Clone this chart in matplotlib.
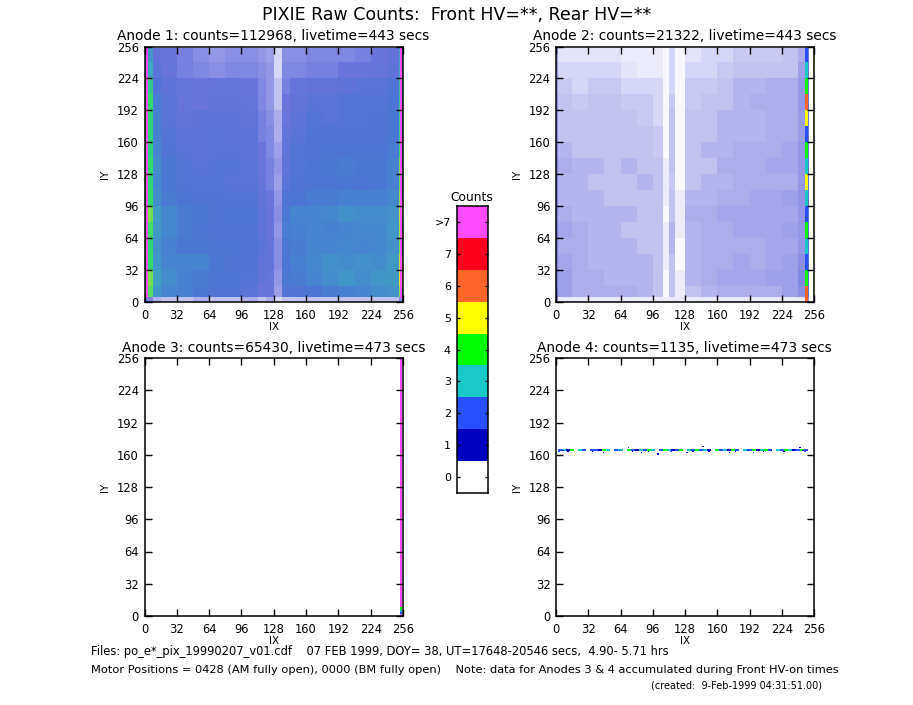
import matplotlib
matplotlib.use('Agg')
import matplotlib.pyplot as plt
from matplotlib.colors import ListedColormap, BoundaryNorm, LinearSegmentedColormap, Normalize

W, H = 913, 705
plt.rcParams['font.family'] = ['DejaVu Sans']

# colour bar levels, bottom to top
level_labels = ['0', '1', '2', '3', '4', '5', '6', '7', '>7']
level_colors = ['#ffffff', '#0000be', '#2850ff', '#19c8c8', '#00ff00',
                '#ffff00', '#ff6428', '#ff001e', '#ff4bff']
ticks = [0, 32, 64, 96, 128, 160, 192, 224, 256]

# mean counts per block, estimated by eye (the single pixels can't be read)
a1_x = [0, 8, 16, 32, 48, 64, 80, 96, 112, 120, 128, 136, 144, 160, 176, 192, 208, 224, 240, 252, 256]
a1_y = [0, 5, 16, 32, 48, 64, 80, 96, 112, 128, 144, 160, 176, 192, 208, 224, 240, 254, 256]
a1_means = [
    [0.8, .4, .3, .3, .4, .3, .3, .4, .3, .4, .2, .3, .3, .3, .3, .3, .3, .3, .3, .8],
    [4.2, 2.5, 2.1, 2.0, 1.8, 1.6, 1.6, 1.4, 1.0, 1.0, .5, 1.5, 1.6, 1.7, 1.9, 2.0, 2.1, 2.3, 2.4, 4.5],
    [4.4, 2.8, 2.3, 2.0, 1.9, 1.7, 1.7, 1.5, 1.2, 1.1, .6, 1.8, 1.9, 2.1, 2.3, 2.5, 2.3, 2.5, 2.6, 5.0],
    [4.0, 2.5, 2.1, 2.1, 2.1, 1.8, 1.6, 1.6, 1.3, 1.2, .7, 1.7, 2.0, 2.2, 2.4, 2.3, 2.4, 2.3, 2.6, 4.8],
    [3.9, 2.4, 2.0, 1.8, 1.8, 1.7, 1.7, 1.6, 1.4, 1.2, .7, 1.8, 1.9, 2.1, 2.1, 2.2, 2.1, 2.2, 2.4, 4.4],
    [4.1, 2.6, 2.2, 1.9, 1.7, 1.6, 1.6, 1.6, 1.3, 1.1, .6, 1.9, 2.0, 2.1, 2.0, 2.1, 2.2, 2.2, 2.5, 4.6],
    [4.4, 2.7, 2.2, 1.9, 1.8, 1.6, 1.7, 1.7, 1.3, 1.1, .7, 1.8, 2.1, 2.1, 2.2, 2.4, 2.3, 2.3, 2.4, 4.8],
    [4.0, 2.3, 1.9, 1.7, 1.6, 1.6, 1.5, 1.5, 1.2, 1.0, .6, 1.6, 1.7, 1.9, 1.9, 2.0, 2.0, 2.0, 2.2, 4.5],
    [3.9, 2.2, 1.8, 1.5, 1.5, 1.5, 1.4, 1.4, 1.1, .9, .5, 1.4, 1.6, 1.7, 1.7, 1.8, 1.7, 1.8, 2.0, 4.3],
    [4.0, 2.3, 1.8, 1.5, 1.4, 1.5, 1.5, 1.4, 1.0, .9, .6, 1.3, 1.5, 1.7, 1.8, 1.9, 1.8, 1.8, 2.0, 4.4],
    [3.8, 2.1, 1.6, 1.4, 1.3, 1.4, 1.4, 1.3, 1.0, .8, .5, 1.2, 1.5, 1.6, 1.7, 1.7, 1.7, 1.7, 1.9, 4.0],
    [3.9, 2.0, 1.5, 1.3, 1.3, 1.4, 1.3, 1.3, .9, .8, .4, 1.2, 1.4, 1.6, 1.6, 1.6, 1.6, 1.6, 1.8, 3.8],
    [3.9, 2.0, 1.4, 1.2, 1.3, 1.3, 1.3, 1.2, .9, .7, .4, 1.0, 1.3, 1.5, 1.4, 1.5, 1.5, 1.6, 1.8, 3.8],
    [4.0, 1.9, 1.4, 1.1, 1.0, 1.2, 1.2, 1.1, .8, .6, .3, 1.0, 1.2, 1.4, 1.4, 1.5, 1.5, 1.5, 1.7, 3.6],
    [3.6, 1.6, 1.3, 1.1, 1.0, 1.1, 1.1, 1.0, .8, .6, .3, .9, 1.1, 1.2, 1.2, 1.3, 1.4, 1.4, 1.6, 3.4],
    [3.0, 1.4, 1.1, .9, .8, .7, .8, .8, .7, .6, .2, .8, .8, .9, .9, 1.0, 1.0, 1.1, 1.3, 3.0],
    [2.6, 1.2, 1.0, .9, .7, .6, .7, .7, .6, .5, .2, .7, .7, .8, .8, .8, .9, 1.0, 1.2, 2.8],
    [0, 0, 0, 0, 0, 0, 0, 0, 0, 0, 0, 0, 0, 0, 0, 0, 0, 0, 0, 0],
]

a2_x = [0, 2, 16, 32, 48, 64, 80, 96, 106, 112, 118, 128, 144, 160, 176, 192, 208, 224, 240, 247, 251, 256]
a2_y = [0, 5, 16, 32, 48, 64, 80, 96, 112, 128, 144, 160, 176, 192, 208, 224, 240, 254, 256]
a2_means = [
    [.6, .1, .1, .1, .1, .1, .1, .1, .1, .1, .1, .1, .1, .1, .1, .1, .1, .1, .1, .6, 0],
    [1.0, .5, .4, .4, .4, .4, .35, .3, .05, .3, .1, .3, .35, .4, .4, .4, .4, .5, .7, 1.5, 0],
    [.9, .5, .4, .4, .35, .35, .35, .3, .05, .3, .1, .35, .4, .45, .45, .45, .5, .5, .8, 1.5, 0],
    [.8, .45, .4, .35, .35, .35, .35, .3, .1, .3, .05, .35, .4, .4, .45, .4, .45, .5, .7, 1.5, 0],
    [.8, .4, .4, .35, .35, .35, .3, .3, .1, .35, .05, .35, .4, .4, .4, .4, .45, .45, .6, 1.4, 0],
    [.9, .45, .4, .35, .35, .3, .3, .3, .1, .35, .1, .35, .4, .4, .45, .45, .45, .5, .6, 1.4, 0],
    [.8, .4, .35, .35, .35, .35, .3, .3, .05, .3, .1, .4, .4, .45, .45, .45, .45, .45, .6, 1.4, 0],
    [.8, .35, .35, .35, .3, .3, .3, .3, .1, .3, .1, .35, .35, .4, .4, .45, .45, .5, .65, 1.3, 0],
    [.8, .35, .35, .3, .3, .3, .35, .3, .1, .25, .05, .3, .35, .35, .4, .4, .4, .4, .6, 1.3, 0],
    [.8, .4, .35, .35, .3, .35, .3, .3, .1, .3, .05, .3, .3, .4, .4, .4, .45, .45, .6, 1.3, 0],
    [.7, .35, .3, .3, .3, .3, .3, .25, .05, .3, .05, .3, .35, .35, .4, .4, .4, .45, .6, 1.2, 0],
    [.7, .3, .3, .3, .3, .3, .3, .25, .05, .3, .05, .3, .3, .35, .35, .35, .4, .4, .55, 1.2, 0],
    [.7, .3, .3, .3, .3, .3, .25, .2, .05, .3, .05, .3, .3, .35, .35, .35, .4, .4, .55, 1.2, 0],
    [.7, .3, .25, .3, .3, .25, .25, .2, .05, .25, .05, .25, .3, .3, .35, .4, .4, .4, .6, 1.2, 0],
    [.6, .25, .2, .25, .25, .2, .2, .2, .05, .2, .05, .25, .25, .3, .35, .35, .4, .4, .6, 1.2, 0],
    [.6, .2, .2, .2, .2, .15, .1, .1, .05, .2, .05, .2, .2, .25, .3, .3, .3, .3, .5, 1.1, 0],
    [.5, .15, .15, .15, .15, .1, .1, .1, .05, .2, .05, .15, .2, .2, .25, .25, .25, .3, .4, 1.0, 0],
    [0, 0, 0, 0, 0, 0, 0, 0, 0, 0, 0, 0, 0, 0, 0, 0, 0, 0, 0, 0, 0],
]

# Anode 2 hot column, level per 16 rows from the bottom
a2_hot_y = [0, 16, 32, 48, 64, 80, 96, 112, 128, 144, 160, 176, 192, 208, 224, 240, 254]
a2_hot_levels = [6, 4, 2, 3, 4, 2, 3, 5, 3, 4, 2, 5, 6, 4, 3, 2]

# Anode 3 column at the right edge
a3_col_y = [0, 2, 4, 6, 9, 256]
a3_col_levels = [8, 2, 3, 4, 8]

# Anode 4 band, main row in 4 wide steps then the stray pixels around it
a4_x = [2, 6, 10, 14, 18, 22, 26, 30, 34, 38, 42, 46, 50, 54, 58, 62, 66, 70, 74, 78, 82, 86, 90, 94, 98,
        102, 106, 110, 114, 118, 122, 126, 130, 134, 138, 142, 146, 150, 154, 158, 162, 166, 170, 174,
        178, 182, 186, 190, 194, 198, 202, 206, 210, 214, 218, 222, 226, 230, 234, 238, 242, 246, 250]
a4_levels = [2, 3, 1, 4, 0, 3, 2, 0, 2, 2, 1, 4, 3, 0, 2, 3, 0, 4, 2, 1, 3, 2, 4, 3, 0, 2, 4, 3,
             1, 2, 4, 0, 3, 2, 4, 2, 3, 1, 0, 4, 2, 3, 1, 4, 2, 0, 3, 2, 4, 1, 3, 4, 2, 0, 3, 2,
             4, 3, 1, 2, 4, 2]
stray_x = [3, 7, 12, 36, 40, 47, 63, 72, 76, 85, 92, 101, 114, 130, 136, 146, 152, 164, 172, 178,
           190, 196, 206, 214, 226, 238, 242, 245, 247]
stray_y = [163, 164, 163, 163, 164, 162, 164, 167, 163, 162, 163, 161, 163, 162, 163, 168, 163, 164, 162, 163,
           164, 162, 163, 164, 163, 164, 167, 164, 163]
stray_levels = [2, 1, 1, 1, 2, 1, 1, 2, 1, 1, 1, 1, 2, 1, 1, 1, 1, 2, 1, 1, 1, 2, 1, 1, 1, 2, 1, 1, 2]

titles = ['Anode 1: counts=112968, livetime=443 secs', 'Anode 2: counts=21322, livetime=443 secs',
          'Anode 3: counts=65430, livetime=473 secs', 'Anode 4: counts=1135, livetime=473 secs']

level_cmap = ListedColormap(level_colors)
level_norm = BoundaryNorm(range(10), 9)
# blocks show the average look of mixed pixels, so the ramp runs between the palette colours
block_cmap = LinearSegmentedColormap.from_list('blocks', [
    (0, '#ffffff'), (0.4 / 8, '#a8a8eb'), (1 / 8, '#6a74dc'), (1.7 / 8, '#4c75d6'),
    (3 / 8, '#3ca8be'), (4 / 8, '#30d870'), (5 / 8, '#e8e820'), (6 / 8, '#ff6428'),
    (7 / 8, '#ff001e'), (1, '#ff4bff')])
block_norm = Normalize(0, 8)


def add_axes(left, top, right, bottom):
    return fig.add_axes([left / W, 1 - bottom / H, (right - left) / W, (bottom - top) / H])


def ptext(x, y, s, **kw):
    fig.text(x / W, 1 - y / H, s, va='center', **kw)


fig = plt.figure(figsize=(W / 100, H / 100), dpi=100)

boxes = [(144.5, 46.5, 403, 302), (556, 46.5, 814, 302), (144.5, 358, 403, 616), (556, 358, 814, 616)]
axs = []
for box, title in zip(boxes, titles):
    ax = add_axes(*box)
    ax.set_xlim(0, 256)
    ax.set_ylim(0, 256)
    ax.set_xticks(ticks)
    ax.set_yticks(ticks)
    ax.tick_params(direction='in', length=5, width=1, top=True, right=True, labelsize=8.3)
    ax.tick_params(axis='x', pad=5)
    ax.tick_params(axis='y', pad=4)
    for spine in ax.spines.values():
        spine.set_linewidth(1.1)
    ax.set_xlabel('IX', fontsize=7.5, labelpad=0)
    ax.set_ylabel('IY', fontsize=7.5, labelpad=5)
    ptext((box[0] + box[2]) / 2 - 0.5, box[1] - 10.5, title, ha='center', fontsize=9.9)
    axs.append(ax)

axs[0].pcolormesh(a1_x, a1_y, a1_means, cmap=block_cmap, norm=block_norm)
axs[0].pcolormesh([1, 3], [4, 254], [[8]], cmap=level_cmap, norm=level_norm)
axs[0].pcolormesh([253, 255], [4, 254], [[8]], cmap=level_cmap, norm=level_norm)

axs[1].pcolormesh(a2_x, a2_y, a2_means, cmap=block_cmap, norm=block_norm)
axs[1].pcolormesh([247.5, 250], a2_hot_y, [[v] for v in a2_hot_levels], cmap=level_cmap, norm=level_norm)

axs[2].pcolormesh([253, 255], a3_col_y, [[v] for v in a3_col_levels], cmap=level_cmap, norm=level_norm)

axs[3].pcolormesh(a4_x, [164, 166], [a4_levels], cmap=level_cmap, norm=level_norm)
axs[3].scatter(stray_x, stray_y, c=stray_levels, cmap=level_cmap, norm=level_norm, s=1.2, marker='s', linewidths=0)

# colour bar
cax = add_axes(456.5, 206, 488, 493)
cax.pcolormesh([0, 1], range(10), [[i] for i in range(9)], cmap=level_cmap, norm=level_norm)
cax.set_xticks([])
cax.set_yticks([i + 0.5 for i in range(9)])
cax.set_yticklabels(level_labels)
cax.tick_params(direction='in', length=2, width=1, right=True, labelsize=8, pad=4)
for spine in cax.spines.values():
    spine.set_linewidth(1.1)
ptext(472, 197, 'Counts', ha='center', fontsize=8.8)

ptext(456.5, 15, 'PIXIE Raw Counts:  Front HV=**, Rear HV=**', ha='center', fontsize=12.5, fontweight='medium')
ptext(91, 651.5, 'Files: po_e*_pix_19990207_v01.cdf    07 FEB 1999, DOY= 38, UT=17648-20546 secs,  4.90- 5.71 hrs',
      ha='left', fontsize=8.3)
ptext(91, 670, 'Motor Positions = 0428 (AM fully open), 0000 (BM fully open)    Note: data for Anodes 3 & 4 accumulated during Front HV-on times',
      ha='left', fontsize=8.2)
ptext(651, 685, '(created:  9-Feb-1999 04:31:51.00)', ha='left', fontsize=7)

fig.savefig('out.png', dpi=100)
